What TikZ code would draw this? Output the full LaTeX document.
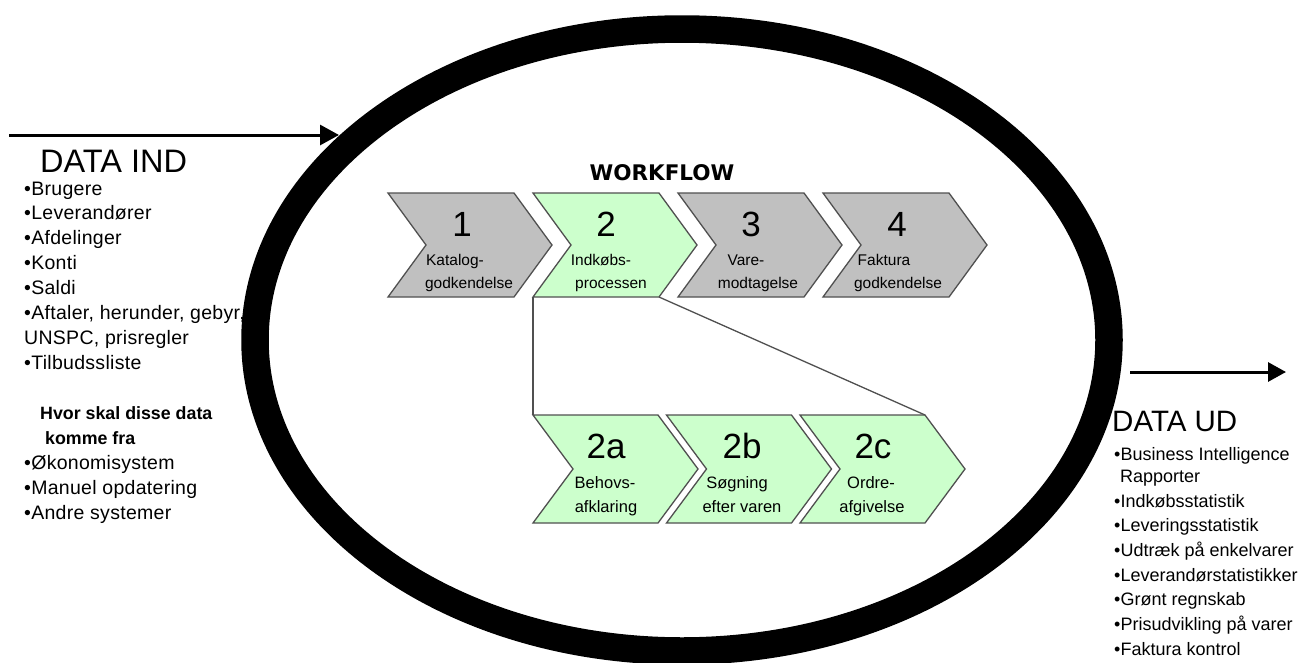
\documentclass[tikz,border=0pt]{standalone}
\usepackage{fontspec}
\setmainfont{Liberation Sans}
\newfontfamily\wffont{DejaVu Sans}
\newfontfamily\listfont{Liberation Sans}[LetterSpace=1.5]
\usetikzlibrary{arrows.meta}
\definecolor{chgrey}{RGB}{192,192,192}
\definecolor{chgreen}{RGB}{204,255,204}
\definecolor{edgegrey}{RGB}{80,80,80}
\tikzset{
  ringline/.style={line width=27.5pt, draw=black},
  flowarrow/.style={line width=3pt, -{Triangle[length=19pt,width=20pt]}},
  chevbox/.style={draw=edgegrey, line width=1.3pt, line join=miter},
  linkline/.style={draw=edgegrey, line width=1.3pt},
  numtxt/.style={anchor=base, inner sep=0pt, font=\fontsize{35}{35}\selectfont},
  subtxt/.style={anchor=base, inner sep=0pt, font=\fontsize{15.5}{15.5}\selectfont},
  subtxtb/.style={anchor=base, inner sep=0pt, font=\fontsize{16.5}{16.5}\selectfont},
  wftitle/.style={anchor=base, inner sep=0pt, font=\wffont\bfseries\fontsize{21.5}{21.5}\selectfont},
  headtxt/.style={anchor=base west, inner sep=0pt, font=\fontsize{32.5}{32.5}\selectfont},
  listtxt/.style={anchor=base west, inner sep=0pt, font=\listfont\fontsize{19.5}{19.5}\selectfont},
  listtxtr/.style={anchor=base west, inner sep=0pt, font=\fontsize{18}{18}\selectfont},
  boldtxt/.style={anchor=base west, inner sep=0pt, font=\bfseries\fontsize{17.8}{17.8}\selectfont},
}
% #1 name, #2 left, #3 top, #4 body width, #5 point depth, #6 height, #7 fill
\newcommand\mychev[7]{%
  \path[chevbox, fill=#7] (#2,#3) coordinate (#1-nw)
    -- ++(#4,0) coordinate (#1-ne)
    -- ++(#5,#6/2) coordinate (#1-tip)
    -- ++(-#5,#6/2) coordinate (#1-se)
    -- ++(-#4,0) coordinate (#1-sw)
    -- ++(#5,-#6/2) coordinate (#1-notch) -- cycle;}
\begin{document}
\begin{tikzpicture}[x=1pt,y=-1pt]
\useasboundingbox (0,0) rectangle (1299,662);
\fill[white] (0,0) rectangle (1299,662);

% ---- left text ----
\node[headtxt] (dataind) at (40,172) {DATA IND};
\foreach \yy/\tx [count=\i] in {195/{•Brugere}, 219.9/{•Leverandører}, 244.8/{•Afdelinger},
    269.7/{•Konti}, 294.6/{•Saldi}, 319.5/{•Aftaler, herunder, gebyr,},
    344.4/{UNSPC, prisregler}, 369.3/{•Tilbudssliste}}
  \node[listtxt] (in\i) at (24,\yy) {\tx};
\node[boldtxt] (hvor1) at (40,419) {Hvor skal disse data};
\node[boldtxt] (hvor2) at (45,444) {komme fra};
\node[listtxt] (src1) at (24,469) {•Økonomisystem};
\node[listtxt] (src2) at (24,494) {•Manuel opdatering};
\node[listtxt] (src3) at (24,519) {•Andre systemer};

% ---- ring ----
\coordinate (ring) at (682,340);
\draw[ringline] (ring) ellipse [x radius=427pt, y radius=311pt];

% ---- arrows ----
\coordinate (inA) at (9,135);
\coordinate (inB) at (339,135);
\draw[flowarrow] (inA) -- (inB);
\coordinate (outA) at (1130,372);
\coordinate (outB) at (1286,372);
\draw[flowarrow, -{Triangle[length=18pt,width=19pt]}] (outA) -- (outB);

% ---- right text ----
\node[headtxt, font=\fontsize{29.5}{29.5}\selectfont] (dataud) at (1112,431) {DATA UD};
\node[listtxtr] (out1) at (1114,460) {•Business Intelligence};
\node[listtxtr] (out1b) at (1120,482) {Rapporter};
\foreach \yy/\tx [count=\i] in {507/{•Indkøbsstatistik}, 531.7/{•Leveringsstatistik},
    556.4/{•Udtræk på enkelvarer}, 581/{•Leverandørstatistikker}, 605.8/{•Grønt regnskab},
    630.5/{•Prisudvikling på varer}, 655/{•Faktura kontrol}}
  \node[listtxtr] (outl\i) at (1114,\yy) {\tx};

% ---- workflow ----
\node[wftitle] (wf) at (662,180) {WORKFLOW};

\mychev{c1}{388}{193}{126}{38}{104}{chgrey}
\mychev{c2}{533}{193}{126}{38}{104}{chgreen}
\mychev{c3}{678}{193}{126}{38}{104}{chgrey}
\mychev{c4}{823}{193}{126}{38}{104}{chgrey}

\node[numtxt] (n1) at (462,236) {1};
\node[subtxt] (s1a) at (455,265) {Katalog-};
\node[subtxt] (s1b) at (469,288) {godkendelse};
\node[numtxt] (n2) at (606,236) {2};
\node[subtxt] (s2a) at (601,265) {Indkøbs-};
\node[subtxt] (s2b) at (611,288) {processen};
\node[numtxt] (n3) at (751,236) {3};
\node[subtxt] (s3a) at (746,265) {Vare-};
\node[subtxt] (s3b) at (758,288) {modtagelse};
\node[numtxt] (n4) at (897,236) {4};
\node[subtxt] (s4a) at (884,265) {Faktura};
\node[subtxt] (s4b) at (898,288) {godkendelse};

\mychev{c2a}{533}{415}{125}{40}{108}{chgreen}
\mychev{c2b}{666.5}{415}{125}{40}{108}{chgreen}
\mychev{c2c}{800}{415}{125}{40}{108}{chgreen}

\node[numtxt] (n2a) at (606,458) {2a};
\node[subtxtb] (s2aa) at (605,488) {Behovs-};
\node[subtxtb] (s2ab) at (606,512) {afklaring};
\node[numtxt] (n2b) at (742,458) {2b};
\node[subtxtb] (s2ba) at (737,488) {Søgning};
\node[subtxtb] (s2bb) at (742,512) {efter varen};
\node[numtxt] (n2c) at (873,458) {2c};
\node[subtxtb] (s2ca) at (871,488) {Ordre-};
\node[subtxtb] (s2cb) at (872,512) {afgivelse};

\draw[linkline] (c2-sw) -- (c2a-nw);
\draw[linkline] (c2-se) -- (c2c-ne);
\end{tikzpicture}
\end{document}
